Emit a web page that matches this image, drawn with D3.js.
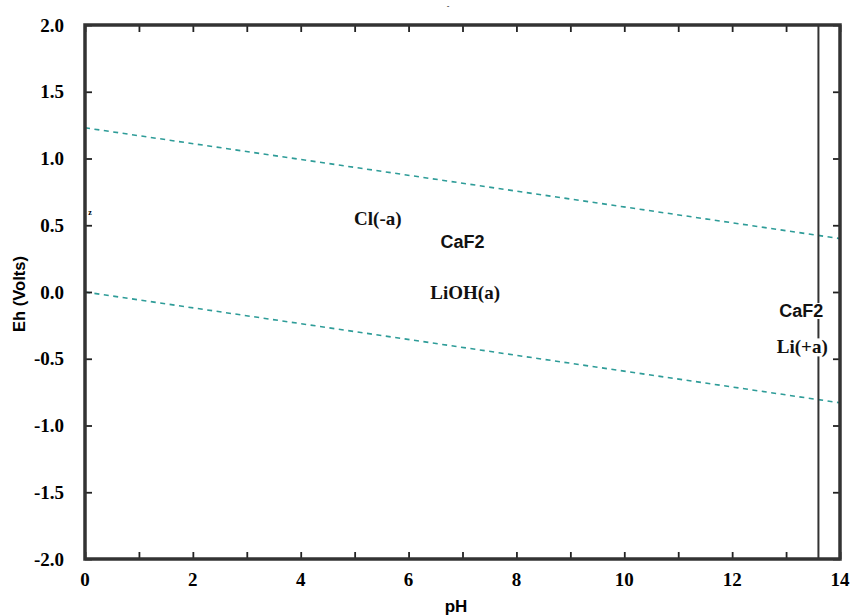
<!DOCTYPE html>
<html><head><meta charset="utf-8">
<script src="https://cdn.jsdelivr.net/npm/d3@7"></script>
<style>html,body{margin:0;padding:0;background:#fff;}svg{display:block;}</style>
</head><body>
<svg id="c" width="853" height="615"></svg>
<script>
// ---- data ----
const xTicksLabeled = [0, 2, 4, 6, 8, 10, 12, 14];
const xTicksMinor = [0,1,2,3,4,5,6,7,8,9,10,11,12,13,14];
const yTicks = [-2.0,-1.5,-1.0,-0.5,0.0,0.5,1.0,1.5,2.0];
const waterPH = [0, 14];
const waterUpperEh = [1.23, 0.40];
const waterLowerEh = [0.0, -0.83];
const boundaryPH = 13.6;
const fieldLabels = ["Cl(-a)", "CaF2", "LiOH(a)", "CaF2", "Li(+a)"];
const fieldPH = [5.43, 7.0, 7.05, 13.28, 13.3];
const fieldEh = [0.55, 0.38, 0.0, -0.14, -0.41];
const fieldFont = ["serif", "sans", "serif", "sans", "serif"];
const fieldBg = [false, false, false, true, true];

// ---- layout ----
const svg = d3.select("#c");
const L = 85, R = 840, T = 25, B = 559;
const x = d3.scaleLinear().domain([0, 14]).range([L, R]);
const y = d3.scaleLinear().domain([-2, 2]).range([B, T]);
const serif = "'Liberation Serif','DejaVu Serif',serif";
const sans = "'Liberation Sans',Arial,sans-serif";

// water lines
const line = d3.line().x(d => x(d[0])).y(d => y(d[1]));
[waterUpperEh, waterLowerEh].forEach(arr => {
  svg.append("path")
    .attr("d", line(waterPH.map((p, i) => [p, arr[i]])))
    .attr("fill", "none").attr("stroke", "#2e9c98")
    .attr("stroke-width", 1.6).attr("stroke-dasharray", "5,4.5");
});

// vertical boundary
svg.append("line")
  .attr("x1", x(boundaryPH)).attr("x2", x(boundaryPH))
  .attr("y1", y(2)).attr("y2", y(-2))
  .attr("stroke", "#333").attr("stroke-width", 2);

// axes (ticks inward)
const tl = 7;
const axB = d3.axisBottom(x).tickValues(xTicksMinor).tickSize(-tl).tickFormat("");
const axT = d3.axisTop(x).tickValues(xTicksMinor).tickSize(-tl).tickFormat("");
const axL = d3.axisLeft(y).tickValues(yTicks).tickSize(-tl).tickFormat("");
const axR = d3.axisRight(y).tickValues(yTicks).tickSize(-tl).tickFormat("");
[[axB, `translate(0,${B})`], [axT, `translate(0,${T})`], [axL, `translate(${L},0)`], [axR, `translate(${R},0)`]]
  .forEach(([ax, tr]) => {
    const g = svg.append("g").attr("transform", tr).call(ax);
    g.select(".domain").remove();
    g.selectAll(".tick line").attr("stroke", "#222").attr("stroke-width", 1.8);
  });

// tick labels
const fmt = d => d.toFixed(1);
svg.append("g").selectAll("text").data(yTicks).join("text")
  .attr("x", 64).attr("y", d => y(d)).attr("dy", "0.35em")
  .attr("text-anchor", "end").attr("font-family", serif).attr("font-weight", "bold")
  .attr("font-size", 19).attr("fill", "#000")
  .text(fmt);
svg.append("g").selectAll("text").data(xTicksLabeled).join("text")
  .attr("x", d => x(d)).attr("y", 586)
  .attr("text-anchor", "middle").attr("font-family", serif).attr("font-weight", "bold")
  .attr("font-size", 19).attr("fill", "#000")
  .text(d => String(d));

// frame
svg.append("rect").attr("x", L).attr("y", T).attr("width", R - L).attr("height", B - T)
  .attr("fill", "none").attr("stroke", "#333").attr("stroke-width", 3.5);

// axis titles
svg.append("text").attr("x", 456).attr("y", 612).attr("text-anchor", "middle")
  .attr("font-family", sans).attr("font-weight", "bold").attr("font-size", 17).text("pH");
svg.append("text").attr("transform", "translate(25,294) rotate(-90)").attr("text-anchor", "middle")
  .attr("font-family", sans).attr("font-weight", "bold").attr("font-size", 16.5).text("Eh (Volts)");

// tiny marks
svg.append("text").attr("x", 448).attr("y", 8).attr("text-anchor", "middle")
  .attr("font-family", sans).attr("font-size", 8).text("-");
svg.append("text").attr("x", 90).attr("y", 215).attr("text-anchor", "middle")
  .attr("font-family", serif).attr("font-weight", "bold").attr("font-size", 8).text("z");

// field labels
const lg = svg.append("g");
fieldLabels.forEach((t, i) => {
  const g = lg.append("g");
  const txt = g.append("text")
    .attr("x", x(fieldPH[i])).attr("y", y(fieldEh[i])).attr("dy", "0.35em")
    .attr("text-anchor", "middle")
    .attr("font-family", fieldFont[i] === "serif" ? serif : sans)
    .attr("font-weight", "bold").attr("font-size", fieldFont[i] === "serif" ? 19 : 18)
    .attr("fill", "#111").text(t);
  if (fieldBg[i]) {
    const bb = txt.node().getBBox();
    g.insert("rect", "text").attr("x", bb.x - 1).attr("y", bb.y + 2)
      .attr("width", bb.width + 2).attr("height", bb.height - 4).attr("fill", "#fff");
  }
});
</script>
</body></html>
